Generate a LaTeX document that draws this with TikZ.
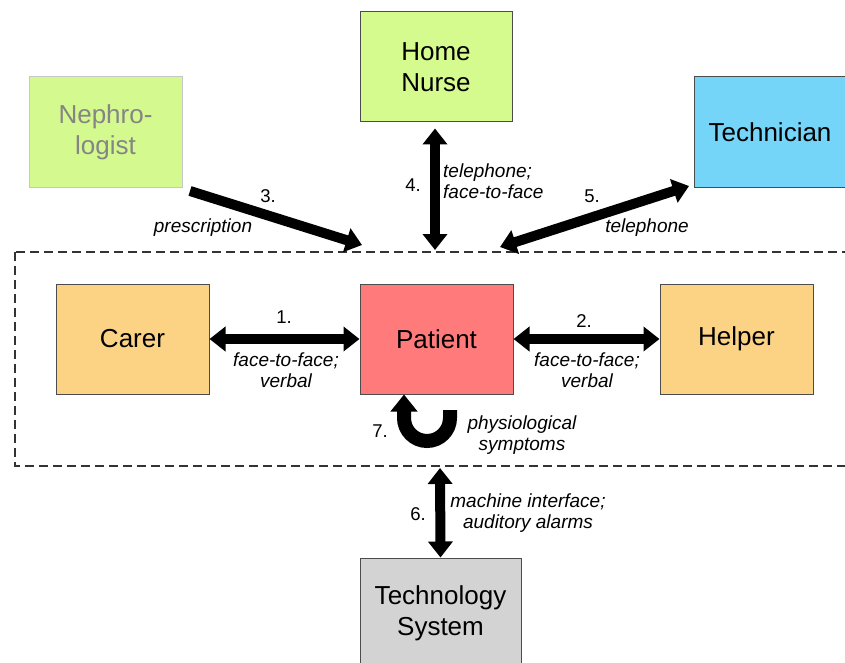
\documentclass[tikz,border=0pt]{standalone}
\usepackage{fontspec}
\setmainfont{Liberation Sans}
\usetikzlibrary{arrows.meta}
\definecolor{nephrofill}{HTML}{D4F98E}
\definecolor{nursefill}{HTML}{D5FA8D}
\definecolor{techfill}{HTML}{74D5F9}
\definecolor{carerfill}{HTML}{FCD385}
\definecolor{patfill}{HTML}{FF7B7B}
\definecolor{sysfill}{HTML}{D3D3D3}
\definecolor{dashcol}{HTML}{333333}
\tikzset{
  box/.style={draw=black!70, line width=1pt, inner sep=0pt, minimum width=153pt, minimum height=110pt,
    align=center, font=\fontsize{26}{31}\selectfont},
  lab/.style={font=\fontsize{19}{21}\selectfont\itshape, inner sep=0pt, align=center},
  num/.style={font=\fontsize{18.5}{21}\selectfont, inner sep=0pt},
  dbl/.style={line width=10pt, {Triangle[width=24pt,length=16pt]}-{Triangle[width=24pt,length=16pt]}},
  sgl/.style={line width=10pt, -{Triangle[width=24pt,length=16pt]}},
}
\begin{document}
\begin{tikzpicture}[x=1pt,y=-1pt]
\clip (0,0) rectangle (845,663);
\fill[white] (0,0) rectangle (845,663);
% dashed system boundary
\draw[dashcol, line width=2pt, dash pattern=on 9pt off 5pt] (15,252) rectangle (870,466);
% nodes
\node[box, fill=nephrofill, draw=black!22, text=black!48] (nephro) at (105.5,132) {Nephro-\\logist};
\node[box, fill=nursefill, minimum width=152pt] (nurse) at (436,67) {Home\\Nurse};
\node[box, fill=techfill, minimum width=152pt] (tech) at (770,132) {Technician};
\node[box, fill=carerfill] (carer) at (132.5,339) {Carer};
\node[box, fill=patfill] (patient) at (436.5,339) {Patient};
\node[box, fill=carerfill] (helper) at (736.5,339) {Helper};
\node[box, fill=sysfill, minimum width=161pt] (techsys) at (440.5,613) {Technology\\System};
% anchor coordinates on the boundary
\coordinate (b3) at (362,245);
\coordinate (b4) at (435,250);
\coordinate (b5) at (500,247);
\coordinate (b6) at (440,468);
\coordinate (n3) at (190,191);
\coordinate (t5) at (689,186);
\coordinate (u7r) at (450,410);
% connectors
\draw[dbl] ([xshift=-1pt]nurse.south) ++(0,6) -- (b4);
\draw[dbl] (carer.east) -- (patient.west);
\draw[dbl] (patient.east) -- (helper.west);
\draw[dbl] (b5) -- (t5);
\draw[sgl] (n3) -- (b3);
\draw[dbl] (b6) -- (techsys.north);
\draw[line width=14pt, -{Triangle[width=26pt,length=17pt]}] (u7r) -- (450,418) arc (0:180:23) -- ([xshift=-32.5pt]patient.south);
% labels
\node[num] at (268,196) {3.};
\node[lab] at (203,228) {prescription};
\node[num] at (413,185) {4.};
\node[lab, anchor=west, align=left] at (443,181) {telephone;\\face-to-face};
\node[num] at (592,196) {5.};
\node[lab] at (647,228) {telephone};
\node[num] at (284,317) {1.};
\node[lab] at (286,370) {face-to-face;\\verbal};
\node[num] at (584,321) {2.};
\node[lab] at (587,370) {face-to-face;\\verbal};
\node[num] at (380,431) {7.};
\node[lab] at (522,435) {physiological\\symptoms};
\node[num] at (418,514) {6.};
\node[lab] at (528,513) {machine interface;\\auditory alarms};
\end{tikzpicture}
\end{document}
